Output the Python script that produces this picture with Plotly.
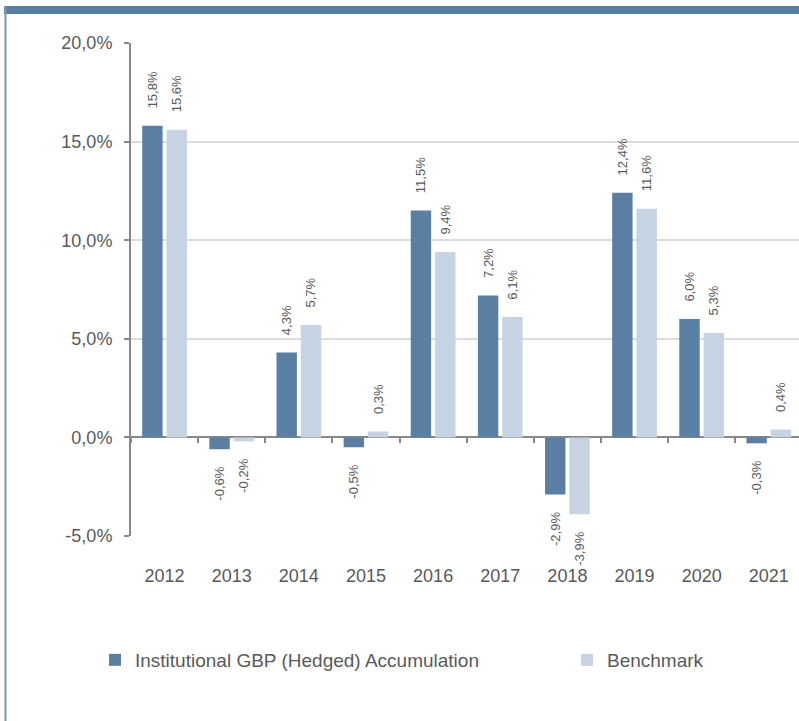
import plotly.graph_objects as go

years = ["2012", "2013", "2014", "2015", "2016", "2017", "2018", "2019", "2020", "2021"]
fund = [15.8, -0.6, 4.3, -0.5, 11.5, 7.2, -2.9, 12.4, 6.0, -0.3]
bench = [15.6, -0.2, 5.7, 0.3, 9.4, 6.1, -3.9, 11.6, 5.3, 0.4]
fund_name = "Institutional GBP (Hedged) Accumulation"
bench_name = "Benchmark"
y_tick_vals = [-5, 0, 5, 10, 15, 20]
y_tick_text = ["-5,0%", "0,0%", "5,0%", "10,0%", "15,0%", "20,0%"]

DARK = "#5b7fa3"
LIGHT = "#c5d3e3"
TXT = "#595959"
AX = "#888888"
FONT = "Liberation Sans, Arial, sans-serif"
NB = "\u00a0" * 4


def labels(vals):
    out = []
    for v in vals:
        s = f"{v:.1f}%".replace(".", ",")
        out.append(NB + s if v >= 0 else s + NB)
    return out


W, H = 799, 721
L, R, T, B = 131, 0, 43, 185
pw, ph = W - L - R, H - T - B
Y_MIN, Y_MAX = -5, 20


def px_x(p):
    return (p - L) / pw


def px_y(p):
    return (H - B - p) / ph


fig = go.Figure()
for name, vals, col, lg in [(fund_name, fund, DARK, "legend"), (bench_name, bench, LIGHT, "legend2")]:
    fig.add_trace(go.Bar(
        x=years, y=vals, name=name, legend=lg,
        marker=dict(color=col, line=dict(width=0)),
        text=labels(vals), textposition="outside", textangle=-90,
        textfont=dict(size=13, color=TXT, family=FONT),
        constraintext="none", cliponaxis=False,
    ))

leg_common = dict(
    orientation="h", yanchor="middle", xanchor="left",
    font=dict(size=19, color=TXT, family=FONT), itemwidth=30,
    bgcolor="rgba(0,0,0,0)",
)

fig.update_layout(
    width=W, height=H,
    margin=dict(l=L, r=R, t=T, b=B, autoexpand=False),
    paper_bgcolor="white", plot_bgcolor="white",
    separators=",.",
    barmode="group", bargap=0.276, bargroupgap=0.16,
    font=dict(family=FONT, color=TXT, size=18),
    showlegend=True,
    legend=dict(x=px_x(95), y=px_y(660), **leg_common),
    legend2=dict(x=px_x(567), y=px_y(660), **leg_common),
    xaxis=dict(
        type="category", range=[-0.5, 9.45], autorange=False,
        anchor="free", position=(0 - Y_MIN) / (Y_MAX - Y_MIN),
        showline=False, showgrid=False, zeroline=False,
        tickson="boundaries", ticks="outside", ticklen=5, tickwidth=2, tickcolor=AX,
        tickfont=dict(size=18, color=TXT, family=FONT), ticklabelstandoff=126,
    ),
    yaxis=dict(
        range=[Y_MIN, Y_MAX], autorange=False,
        tickmode="array", tickvals=y_tick_vals, ticktext=y_tick_text,
        showgrid=True, gridcolor="#dcdcdc", gridwidth=2,
        zeroline=True, zerolinecolor=AX, zerolinewidth=2,
        showline=True, linecolor=AX, linewidth=2,
        ticks="outside", ticklen=5, tickwidth=2, tickcolor=AX,
        tickfont=dict(size=18, color=TXT, family=FONT), ticklabelstandoff=8,
    ),
    shapes=[
        dict(type="rect", xref="paper", yref="paper", layer="above",
             x0=px_x(4), x1=px_x(W + 2), y0=px_y(14), y1=px_y(6),
             fillcolor=DARK, line=dict(width=0)),
        dict(type="line", xref="paper", yref="paper", layer="above",
             x0=px_x(5.5), x1=px_x(5.5), y0=px_y(6), y1=px_y(H + 2),
             line=dict(color="#7c98b8", width=2)),
    ],
)

fig.write_html(
    "out.html",
    config={"displayModeBar": False},
    post_script="document.body.style.margin='0';document.body.style.overflow='hidden';",
)
